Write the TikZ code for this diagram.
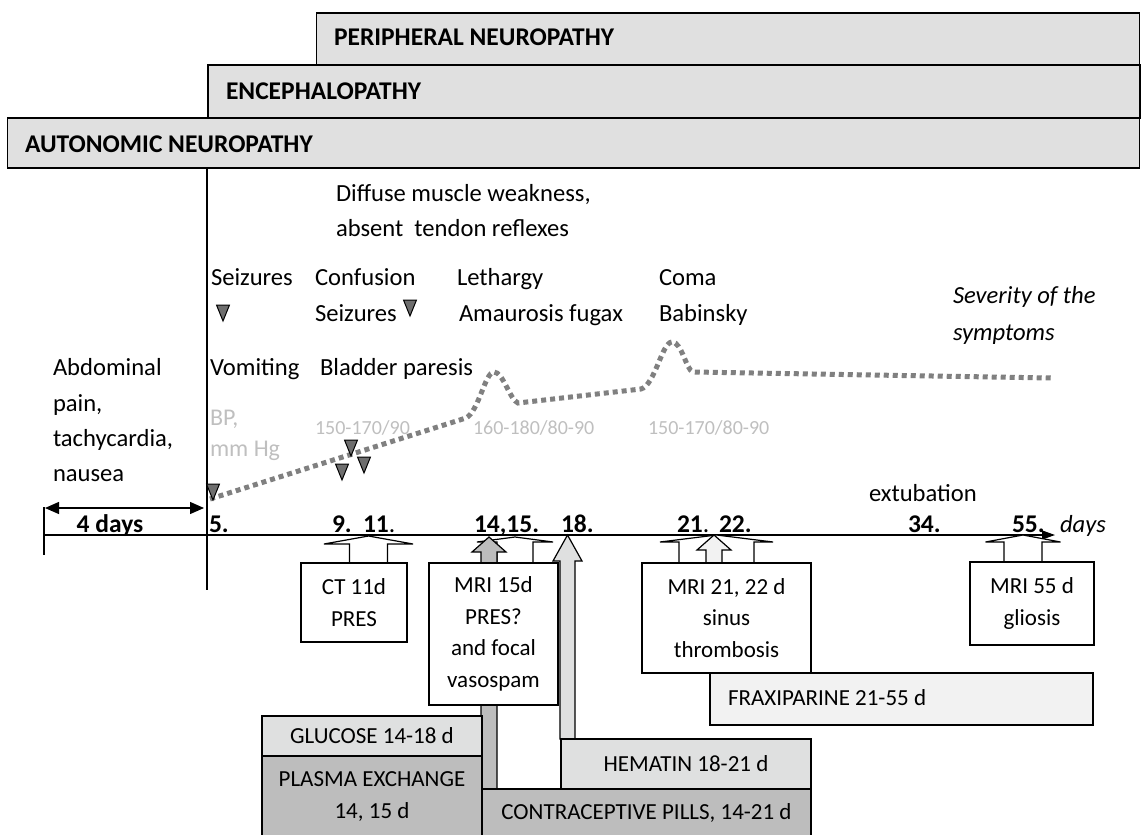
\documentclass[tikz,border=0pt]{standalone}
\usepackage{fontspec}
\setmainfont{Carlito}
\usetikzlibrary{arrows.meta}
\definecolor{barfill}{HTML}{E0E0E0}
\definecolor{lightfill}{HTML}{DFE0E0}
\definecolor{midfill}{HTML}{BDBDBD}
\definecolor{palefill}{HTML}{F2F2F2}
\definecolor{dotgray}{HTML}{808080}
\definecolor{trifill}{HTML}{6E6E6E}
\definecolor{bpgray}{HTML}{BFBFBF}
\newcommand\blkarrow[7]{%
  \filldraw[fill=#1, draw=black, line width=1.2pt, line join=miter]
    (#2,#3) -- ({#2+#5},#4) -- ({#2+#6},#4) -- ({#2+#6},#7) -- ({#2-#6},#7)
    -- ({#2-#6},#4) -- ({#2-#5},#4) -- cycle;}
\newcommand\downtri[2]{%
  \filldraw[fill=trifill, draw=black, line width=1pt, line join=miter]
    ({#1-6.5},#2) -- ({#1+6.5},#2) -- (#1,{#2+16}) -- cycle;}
\begin{document}
\begin{tikzpicture}[x=1pt,y=-1pt,
  every node/.style={inner sep=0pt, outer sep=0pt},
  txt/.style={anchor=base west, font=\fontsize{24.6}{29}\selectfont},
  bld/.style={anchor=base west, font=\fontsize{25.5}{30}\selectfont\bfseries},
  itx/.style={anchor=base west, font=\fontsize{24.6}{29}\selectfont\itshape},
  bpt/.style={anchor=base west, text=bpgray, font=\fontsize{24}{29}\selectfont},
  bpn/.style={anchor=base west, text=bpgray, font=\fontsize{20}{24}\selectfont},
  bar/.style={draw=black, line width=1.3pt, fill=barfill, anchor=north west},
  box/.style={draw=black, line width=1.3pt, fill=white, anchor=north west, align=center, font=\fontsize{23}{31.5}\selectfont},
  trt/.style={draw=black, line width=1.3pt, anchor=north west, align=center, font=\fontsize{23}{32}\selectfont},
  dotline/.style={draw=dotgray, line width=5pt, dash pattern=on 5pt off 4pt},
  thin/.style={draw=black, line width=1.3pt}
]
\useasboundingbox (0,0) rectangle (1141,835);

% top bars
\node[bar, minimum width=823pt, minimum height=52pt] (pnbar) at (316.5,13) {};
\node[bar, minimum width=932pt, minimum height=53pt] (enbar) at (208,65) {};
\node[bar, minimum width=1132pt, minimum height=50pt] (anbar) at (7.5,118) {};
\node[bld] (pntxt) at (334,45) {PERIPHERAL NEUROPATHY};
\node[bld] (entxt) at (226,99) {ENCEPHALOPATHY};
\node[bld] (antxt) at (25,152) {AUTONOMIC NEUROPATHY};

% vertical line
\coordinate (vtop) at (207,168);
\coordinate (vbot) at (207,590);
\draw[thin] (vtop) -- (vbot);

% symptom texts
\node[txt] (diff) at (336,201) {Diffuse muscle weakness,};
\node[txt] (absent) at (336,236) {absent\ \ tendon reflexes};
\node[txt] (seiz1) at (211,285) {Seizures};
\node[txt] (conf) at (315,285) {Confusion};
\node[txt] (leth) at (457,285) {Lethargy};
\node[txt] (coma) at (659,285) {Coma};
\node[txt] (seiz2) at (315,321) {Seizures};
\node[txt] (amau) at (459,321) {Amaurosis fugax};
\node[txt] (babi) at (659,321) {Babinsky};
\node[itx] (sev1) at (953,303) {Severity of the};
\node[itx] (sev2) at (953,340) {symptoms};
\node[txt] (vomi) at (210,375) {Vomiting};
\node[txt] (blad) at (320,375) {Bladder paresis};
\node[txt] (abd1) at (53,375) {Abdominal};
\node[txt] (abd2) at (53,411) {pain,};
\node[txt] (abd3) at (53,446) {tachycardia,};
\node[txt] (abd4) at (53,481) {nausea};
\node[bpt] (bp1) at (210,425) {BP,};
\node[bpt] (bp2) at (210,456) {mm Hg};
\node[bpn] (bpa) at (315,434) {150-170/90};
\node[bpn] (bpb) at (473,434) {160-180/80-90};
\node[bpn] (bpc) at (648,434) {150-170/80-90};
\node[txt] (extu) at (869,501) {extubation};

% severity dotted line
\draw[dotline] (210,499) -- (466,418) .. controls (479,411) and (485,372) .. (494,372)
  .. controls (503,372) and (510,400) .. (518,403) -- (641,389)
  .. controls (655,385) and (662,342) .. (672,342)
  .. controls (682,342) and (686,370) .. (693,372) -- (1052,378);

% triangles
\downtri{223}{305}
\downtri{410}{300}
\downtri{213}{484}
\downtri{351}{440}
\downtri{342}{464}
\downtri{364}{457}

% axis
\coordinate (axL) at (44,535);
\coordinate (axR) at (1055,535);
\draw[thin, -{Triangle[length=13pt,width=9pt]}] (axL) -- (axR);
\coordinate (tickT) at (44,507);
\coordinate (tickB) at (44,555);
\draw[thin] (tickT) -- (tickB);
\coordinate (dL) at (45,508);
\coordinate (dR) at (204,508);
\draw[thin, {Triangle[length=14pt,width=12pt]}-{Triangle[length=14pt,width=12pt]}] (dL) -- (dR);
\node[bld, anchor=base] (fourd) at (110,532) {4 days};

% axis labels
\node[bld] (d5) at (209,532) {5.};
\node[bld] (d9) at (332,532) {9.};
\node[bld] (d11) at (363,532) {11{\mdseries .}};
\node[bld] (d1415) at (474,532) {14,15.};
\node[bld] (d18) at (561,532) {18.};
\node[bld] (d21) at (677,532) {21{\mdseries .}};
\node[bld] (d22) at (719,532) {22.};
\node[bld] (d34) at (908,532) {34.};
\node[bld] (d55) at (1012,532) {55.};
\node[itx] (days) at (1060,532) {days};

% block arrows
\blkarrow{white}{368.5}{536}{544}{44.5}{19}{563}
\blkarrow{white}{515}{537}{542}{38}{18}{563}
\blkarrow{midfill}{489}{537}{552}{17}{8}{789}
\blkarrow{white}{716.5}{535}{542}{56.5}{37.5}{563}
\blkarrow{palefill}{714}{535}{550}{17}{8}{673}
\blkarrow{white}{1023}{535}{542}{37.5}{19}{562}

% exam boxes
\node[box, minimum width=106pt, minimum height=79pt] (ct) at (301,563) {CT 11d\\PRES};
\node[box, minimum width=129pt, minimum height=142pt] (mri15) at (429,563) {MRI 15d\\PRES?\\and focal\\vasospam};
\blkarrow{lightfill}{567.5}{535}{561}{14.5}{7.5}{739}
\node[box, minimum width=169pt, minimum height=110pt] (mri21) at (642,563) {MRI 21, 22 d\\sinus\\thrombosis};
\node[box, minimum width=124pt, minimum height=83pt] (mri55) at (970,562) {MRI 55 d\\gliosis};

% treatments
\node[trt, fill=palefill, minimum width=383pt, minimum height=52pt] (frax) at (710,673) {};
\node[anchor=base west, font=\fontsize{23}{28}\selectfont] (fraxt) at (728,705) {FRAXIPARINE 21-55 d};
\node[trt, fill=lightfill, minimum width=220pt, minimum height=40pt] (gluc) at (262,716) {GLUCOSE 14-18 d};
\node[trt, fill=midfill, minimum width=220pt, minimum height=80pt] (plasma) at (262,756) {PLASMA EXCHANGE\\14, 15 d};
\node[trt, fill=lightfill, minimum width=250pt, minimum height=50pt] (hema) at (561,739) {HEMATIN 18-21 d};
\node[trt, fill=midfill, minimum width=329pt, minimum height=48pt] (contra) at (482,789) {CONTRACEPTIVE PILLS, 14-21 d};
\end{tikzpicture}
\end{document}
